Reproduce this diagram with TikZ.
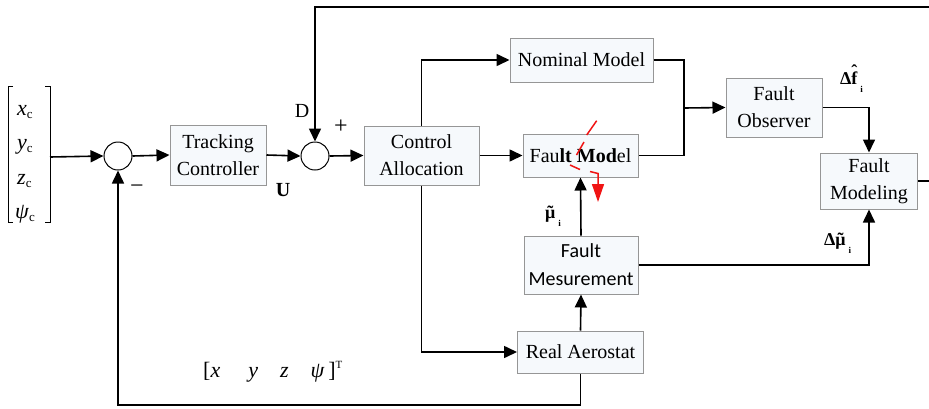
\documentclass[tikz,border=0pt]{standalone}
\usepackage{fontspec}
\setmainfont{Liberation Serif}
\newfontfamily\calib{Carlito}
\usetikzlibrary{arrows.meta}
\definecolor{boxfill}{RGB}{246,249,252}
\definecolor{boxline}{RGB}{150,150,150}
\definecolor{markred}{RGB}{240,20,20}
\newcommand\putover[3]{\setbox0\hbox{#3}\setbox2\hbox{#2}\hbox{\copy0\kern-\wd0\hbox to\wd0{\hss\raise#1\box2\hss}}}
\newcommand\mysubc{\raisebox{-3pt}{\fontsize{13}{13}\selectfont c}}
\newcommand\mysubi{\raisebox{-8pt}{\kern3pt\fontsize{9}{9}\selectfont i}}
\begin{document}
\begin{tikzpicture}[x=1pt,y=-1pt,
  blk/.style={draw=boxline, fill=boxfill, line width=1pt, align=center, inner sep=0pt, font=\fontsize{20}{27}\selectfont},
  sumc/.style={circle, draw, line width=1pt, minimum size=28pt, inner sep=0pt},
  conn/.style={line width=1.6pt, -{Triangle[length=13pt,width=12pt]}},
  wire/.style={line width=1.6pt},
  lbl/.style={inner sep=0pt, font=\fontsize{20}{24}\selectfont},
  ent/.style={anchor=base west, inner sep=0pt, font=\fontsize{22}{22}\selectfont},
  redmark/.style={draw=markred, line width=1.5pt}]
\useasboundingbox (0,0) rectangle (929,408);
\clip (0,0) rectangle (929,408);

% blocks
\node[blk, minimum width=96pt, minimum height=60pt] (tc) at (218,155) {Tracking\\Controller};
\node[sumc] (s1) at (118,156) {};
\node[sumc] (s2) at (315,156) {};
\node[blk, minimum width=115pt, minimum height=59pt] (ca) at (421.5,155.5) {Control\\Allocation};
\node[blk, minimum width=143pt, minimum height=44pt] (nm) at (581.5,60) {Nominal Model};
\node[blk, minimum width=115pt, minimum height=43pt] (fm) at (580.5,155.5) {Fau\textbf{lt Mod}el};
\node[blk, minimum width=96pt, minimum height=59pt] (fo) at (774,107.5) {Fault\\Observer};
\node[blk, minimum width=97pt, minimum height=56pt] (fmod) at (869,181) {Fault\\Modeling};
\node[blk, minimum width=114pt, minimum height=58pt, font=\calib\fontsize{20}{28}\selectfont] (fmes) at (581,265) {Fault\\Mesurement};
\node[blk, minimum width=126pt, minimum height=42pt] (ra) at (580.5,352) {Real Aerostat};

% input vector
\draw[line width=1pt] (13,86) -- (8,86) -- (8,222) -- (13,222);
\draw[line width=1pt] (45,86) -- (50,86) -- (50,222) -- (45,222);
\node[ent] (ex) at (17,115) {\textit{x}\mysubc};
\node[ent] (ey) at (17,149) {\textit{y}\mysubc};
\node[ent] (ez) at (17,184) {\textit{z}\mysubc};
\node[ent] (eq) at (15,218) {\textit{ψ}\mysubc};
\coordinate (vin) at (50,157);

% connectors
\draw[conn] (vin) -- (s1.west);
\draw[conn] (s1.east) -- (tc.west);
\draw[conn] (tc.east) -- (s2.west);
\draw[conn] (s2.east) -- (ca.west);
\draw[conn] (ca.north) |- (nm.west);
\draw[conn] (ca.east) -- (ca.east -| fm.west);
\draw[conn] (ca.south) |- (ra.west);
\coordinate (jn) at (684,108);
\draw[wire] (nm.east) -| (jn) |- (fm.east);
\draw[conn] (jn) -- (fo.west);
\draw[conn] (fo.east) -| (fmod.north);
\draw[conn] (fmes.east) -| (fmod.south);
\draw[conn] (ra.north) -- (fmes.south);
\draw[conn] (fmes.north) -- (fm.south);
\coordinate (rt) at (945,181);
\coordinate (tp) at (945,7);
\draw[conn] (fmod.east) -- (rt) -- (tp) -| (s2.north);
\coordinate (bt) at (580.5,405);
\draw[conn] (ra.south) -- (bt) -| (s1.south);

% labels
\node[lbl] (lD) at (302,111) {D};
\node[lbl, font=\fontsize{24}{24}\selectfont] (lplus) at (341,127) {+};
\node[lbl, font=\fontsize{24}{24}\selectfont] (lminus) at (137,189) {−};
\node[lbl, font=\bfseries\fontsize{20}{24}\selectfont] (lU) at (283,190) {U};
\node[anchor=base west, inner sep=0pt, font=\bfseries\fontsize{18}{18}\selectfont] (lf) at (840,84) {Δ\putover{7pt}{ˆ}{f}\mysubi};
\node[anchor=base west, inner sep=0pt, font=\bfseries\fontsize{18}{18}\selectfont] (ldm) at (824,245) {Δ\putover{0pt}{˜}{μ}\mysubi};
\node[anchor=base west, inner sep=0pt, font=\bfseries\fontsize{18}{18}\selectfont] (lm) at (545,218) {\putover{0pt}{˜}{μ}\mysubi};
\node[anchor=base west, inner sep=0pt, font=\fontsize{22}{22}\selectfont] (lvec) at (203,377) {[\textit{x}\hspace{28pt}\textit{y}\hspace{22pt}\textit{z}\hspace{22pt}\textit{ψ}\,]\raisebox{9pt}{\fontsize{11}{11}\selectfont T}};

% red marks
\draw[redmark] (596.7,120.7) -- (586.7,135);
\draw[redmark] (584,142) -- (576.5,155);
\draw[redmark] (570,165) -- (580,169.5);
\draw[redmark, -{Triangle[length=18pt,width=12pt]}] (590,171.5) -- (598,173.5) -- (598,202);
\end{tikzpicture}
\end{document}
